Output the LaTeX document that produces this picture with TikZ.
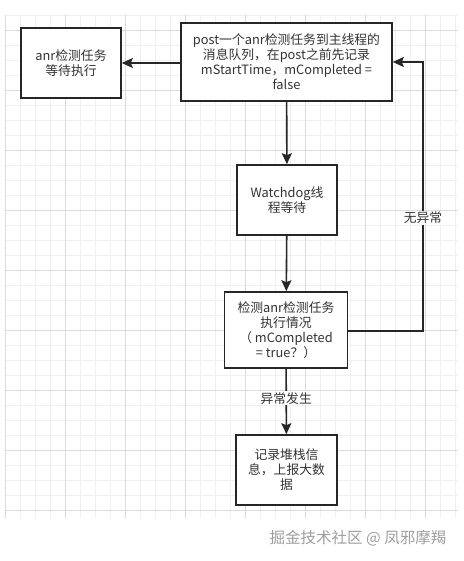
\documentclass[tikz,border=0pt]{standalone}
\usepackage{fontspec}
\setmainfont{Noto Sans CJK SC}
\usetikzlibrary{arrows.meta,positioning}

\begin{document}
\begin{tikzpicture}[
    x=1pt, y=-1pt,
    % Style definitions
    flowbox/.style={rectangle, draw=black!85, fill=white, line width=1.6pt, inner sep=0pt, align=center, text=black!80, font=\fontsize{12.8}{15}\selectfont},
    arrow/.style={-{Stealth[length=11pt,width=10pt,inset=2pt]}, line width=1.6pt, draw=black!85},
    edgelabel/.style={fill=white, inner sep=1pt, text=black!80, font=\fontsize{12.8}{15}\selectfont},
    gridminor/.style={draw=gray!12, line width=0.6pt},
    gridmajor/.style={draw=gray!28, line width=0.7pt}
]

\useasboundingbox[fill=white] (0,0) rectangle (463,561);

% Background grid
\foreach \gx in {5,20,...,455} \draw[gridminor] (\gx,15) -- (\gx,518);
\foreach \gy in {15,30,...,515} \draw[gridminor] (5,\gy) -- (458,\gy);
\foreach \gx in {5,65,...,425} \draw[gridmajor] (\gx,15) -- (\gx,518);
\foreach \gy in {30,90,...,510} \draw[gridmajor] (5,\gy) -- (458,\gy);

% Nodes
\node[flowbox, minimum width=100pt, minimum height=70pt] (waittask) at (71,63) {anr检测任务\\等待执行};
\node[flowbox, minimum width=211pt, minimum height=78pt] (posttask) at (286.5,62) {post一个anr检测任务到主线程的\\消息队列，在post之前先记录\\mStartTime，mCompleted =\\false};
\node[flowbox, minimum width=100pt, minimum height=70pt] (wdwait) at (287,200) {Watchdog线\\程等待};
\node[flowbox, minimum width=123pt, minimum height=76pt] (check) at (286,330) {检测anr检测任务\\执行情况\\（ mCompleted\\= true？）};
\node[flowbox, minimum width=101pt, minimum height=70pt] (report) at (286.5,470) {记录堆栈信\\息，上报大数\\据};
\coordinate (loopcorner) at (423,331);

% Connections
\draw[arrow] (posttask.west |- waittask.east) -- (waittask.east);
\draw[arrow] (posttask) -- (wdwait);
\draw[arrow] (wdwait) -- (check);
\draw[arrow] (check) -- node[edgelabel, pos=0.45] {异常发生} (report);
\draw[arrow] (check.east |- loopcorner) -- (loopcorner) -- node[edgelabel, pos=0.42] {无异常} (loopcorner |- posttask.east) -- (posttask.east);

% Watermark
\node[text=gray!75, font=\fontsize{15.5}{15.5}\selectfont] (mark) at (358,538) {掘金技术社区 @ 凤邪摩羯};

\end{tikzpicture}
\end{document}
